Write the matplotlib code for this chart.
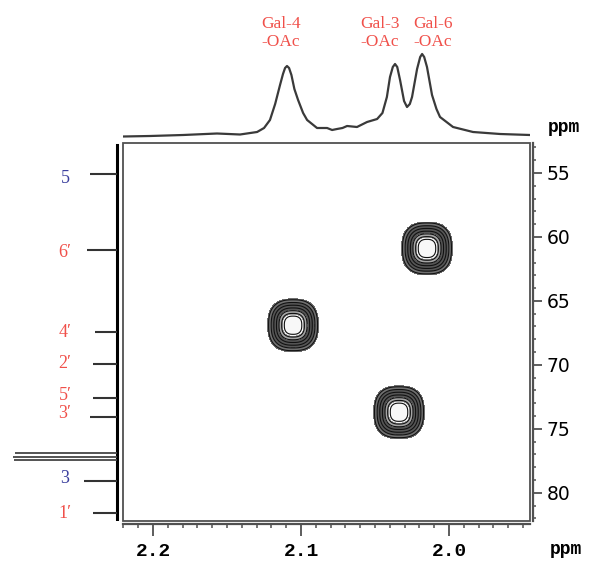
import matplotlib
matplotlib.use("Agg")
import matplotlib.pyplot as plt
import numpy as np
from matplotlib.patches import Rectangle
from matplotlib.ticker import MultipleLocator

# ---- data ----
# 1H projection (top trace): ppm, intensity
h_ppm = [2.2203, 2.2020, 2.1797, 2.1568, 2.1412, 2.1297, 2.1250, 2.1210, 2.1175,
         2.1142, 2.1122, 2.1108, 2.1095, 2.1081, 2.1065, 2.1045, 2.1020, 2.0986,
         2.0959, 2.0892, 2.0824, 2.0790, 2.0757, 2.0720, 2.0689, 2.0622, 2.0554,
         2.0486, 2.0450, 2.0420, 2.0399, 2.0380, 2.0365, 2.0350, 2.0331, 2.0304,
         2.0284, 2.0265, 2.0250, 2.0216, 2.0195, 2.0182, 2.0168, 2.0149, 2.0115,
         2.0085, 2.0061, 1.9973, 1.9838, 1.9655, 1.9453]
h_int = [0.5, 1, 2, 3.5, 2.5, 5, 9, 17, 33,
         52, 63, 69, 71, 69, 62, 48, 37, 24,
         17, 9, 9, 7, 8, 9, 11, 10, 15,
         18, 24, 40, 60, 70, 73, 70, 57, 36,
         30, 33, 40, 68, 80, 83, 80, 70, 42,
         28, 20, 10, 5, 3, 2]

# 13C projection (left trace) peaks: ppm, height, label, colour
c_ppm = [55.1, 61.0, 67.4, 69.9, 72.6, 74.1, 79.1, 81.6]
c_height = [27, 30, 22, 24, 24, 27, 33, 24]
c_labels = ["5", "6\u2032", "4\u2032", "2\u2032", "5\u2032", "3\u2032", "3", "1\u2032"]
c_label_ppm = [55.4, 61.2, 67.5, 69.9, 72.4, 73.8, 78.9, 81.6]
c_colors = ["blue", "red", "red", "red", "red", "red", "blue", "red"]
solvent_ppm = [76.9, 77.16, 77.4]
solvent_height = [102, 104, 103]

# cross peaks: H ppm, C ppm, label
cross_h = [2.1054, 2.0149, 2.0338]
cross_c = [66.9, 60.9, 73.7]
peak_labels = ["Gal-4\n-OAc", "Gal-3\n-OAc", "Gal-6\n-OAc"]
peak_label_h = [2.1135, 2.0466, 2.0108]

RED = "#f0504a"
BLUE = "#3b3f9e"
col = {"red": RED, "blue": BLUE}
AXC = "#505050"

W, H = 593, 563
fig = plt.figure(figsize=(W / 100, H / 100), dpi=100)

x0, x1 = 123, 530
y0, y1 = 143, 521
ax = fig.add_axes([x0 / W, 1 - y1 / H, (x1 - x0) / W, (y1 - y0) / H])
ax.set_xlim(2.2203, 1.9453)
ax.set_ylim(82.2, 52.66)

# cross peak contours (rounded-square peak shape)
P = 2.6
gx = np.linspace(1.94, 2.23, 700)
gy = np.linspace(52, 83, 700)
GX, GY = np.meshgrid(gx, gy)
Z = np.zeros_like(GX)
for hc, cc in zip(cross_h, cross_c):
    Z += np.exp(-((np.abs(GX - hc) / 0.0118) ** P + (np.abs(GY - cc) / 1.42) ** P))


def lev(r):
    return np.exp(-np.asarray(r) ** P)


fill_lev = np.sort(lev([1.45, 1.2, 0.8, 0.55, 0.0]))
ax.contourf(GX, GY, Z, levels=fill_lev,
            colors=["#707070", "#555555", "#a5a5a5", "#f8f8f8"])
line_lev = np.sort(lev(np.linspace(0.5, 1.4, 7)))
ax.contour(GX, GY, Z, levels=line_lev, colors="#111111", linewidths=0.8)

# frame + offset axes
for s in ["top", "left"]:
    ax.spines[s].set_visible(False)
for s in ["bottom", "right"]:
    ax.spines[s].set_position(("outward", 2.2))
    ax.spines[s].set_color(AXC)
    ax.spines[s].set_linewidth(1.6)
ax.add_patch(Rectangle((0, 0), 1, 1, transform=ax.transAxes, fill=False,
                       edgecolor=AXC, linewidth=1.3, clip_on=False))

ax.yaxis.tick_right()
ax.xaxis.set_major_locator(MultipleLocator(0.1))
ax.xaxis.set_minor_locator(MultipleLocator(0.01))
ax.yaxis.set_major_locator(MultipleLocator(5))
ax.yaxis.set_minor_locator(MultipleLocator(1))
ax.tick_params(axis="x", which="major", length=8.5, width=1.3, color=AXC, pad=5)
ax.tick_params(axis="x", which="minor", length=3, width=1.1, color=AXC)
ax.tick_params(axis="y", which="major", length=6.5, width=1.3, color=AXC, pad=3)
ax.tick_params(axis="y", which="minor", length=2.5, width=1.1, color=AXC)
ax.set_xticks([2.2, 2.1, 2.0])
ax.set_xticklabels(["2.2", "2.1", "2.0"], family="Liberation Mono",
                   fontweight="bold", fontsize=14)
ax.set_yticks([55, 60, 65, 70, 75, 80])
ax.set_yticklabels(["55", "60", "65", "70", "75", "80"], family="DejaVu Sans",
                   fontsize=13.5)

fig.text(550 / W, 1 - 549 / H, "ppm", family="Liberation Mono", fontweight="bold",
         fontsize=13, va="center", ha="left")
fig.text(548 / W, 1 - 128 / H, "ppm", family="Liberation Mono", fontweight="bold",
         fontsize=13, va="center", ha="left")

# top 1H projection
axt = fig.add_axes([x0 / W, 1 - 140 / H, (x1 - x0) / W, 100 / H], sharex=ax)
axt.plot(h_ppm, h_int, color="#3a3a3a", lw=1.6, solid_joinstyle="round")
axt.set_ylim(-3, 97)
axt.axis("off")
for lab, hp in zip(peak_labels, peak_label_h):
    axt.text(hp, 104, lab, color=RED, family="Liberation Serif", fontsize=12.5,
             ha="center", va="center", linespacing=1.2, clip_on=False)

# left 13C projection
axl = fig.add_axes([5 / W, 1 - y1 / H, 115 / W, (y1 - y0) / H], sharey=ax)
axl.set_xlim(112, -3)
axl.axvline(0, ymin=0.005, ymax=0.995, color="black", lw=2.2)
axl.hlines(c_ppm, 0, c_height, color="#333333", lw=1.5)
axl.hlines(solvent_ppm, 0, solvent_height, color="#444444", lw=1.3)
for lab, lp, cname in zip(c_labels, c_label_ppm, c_colors):
    axl.text(52, lp, lab, color=col[cname], family="Liberation Serif",
             fontsize=13, ha="center", va="center")
axl.axis("off")

fig.savefig("out.png", dpi=100)
